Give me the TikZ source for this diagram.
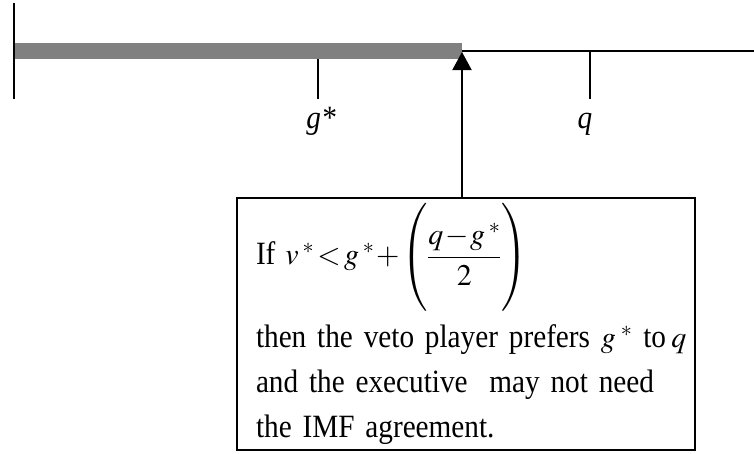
\documentclass[tikz,border=0pt]{standalone}
\usepackage{amsmath}
\usepackage{mathptmx}
\usepackage{fontspec}
\setmainfont{Liberation Serif}
\newfontfamily\narrowserif[FakeStretch=0.9]{Liberation Serif}
\usetikzlibrary{arrows.meta, positioning}

\begin{document}
\begin{tikzpicture}[
    x=1pt,
    y=-1pt,
    axisline/.style={draw=black, line width=2pt},
    tickmark/.style={draw=black, line width=2pt},
    vetobar/.style={fill=gray},
    pointlabel/.style={
        anchor=base,
        inner sep=0pt,
        font=\narrowserif\fontsize{32.5}{36}\selectfont\itshape
    },
    note/.style={
        rectangle,
        draw=black,
        line width=2pt,
        align=left,
        anchor=north west,
        text width=420pt,
        inner xsep=19pt,
        inner ysep=0pt,
        minimum height=252pt,
        font=\narrowserif\fontsize{32.5}{45}\selectfont
    },
    arrow/.style={-{Triangle[length=18pt, width=19pt]}, line width=2pt}
]

\useasboundingbox (0,0) rectangle (754,453);

\fill[vetobar] (14,43) rectangle (462,59);
\draw[axisline] (462,51) -- (754,51);

\draw[tickmark] (14,3) -- (14,99);
\draw[tickmark] (318,59) -- (318,99);
\draw[tickmark] (590,51) -- (590,99);

\node[pointlabel] (gstar) at (321,128) {g*};
\node[pointlabel] (qpoint) at (585,128) {q};

\coordinate (tip) at (462,52);

\node[note] (cond) at (236,197) {\lineskiplimit=-100pt\thickmuskip=2mu\medmuskip=1mu
If\hspace{10pt}{\fontsize{30}{45}\selectfont$v^{\mkern3mu*} < g^{\mkern3mu*} + \left(\rule[-40pt]{0pt}{95pt}\dfrac{q-g^{\mkern3mu*}}{2}\right)$}\\[38pt]
\mbox{then the veto player prefers {\fontsize{30}{45}\selectfont$g^{\mkern4mu*}$}\ to\,{\fontsize{30}{45}\selectfont$q$}}\\
and the executive\ \ may not need\\
the IMF agreement.};

\draw[arrow] (cond.north -| tip) -- (tip);

\end{tikzpicture}
\end{document}
